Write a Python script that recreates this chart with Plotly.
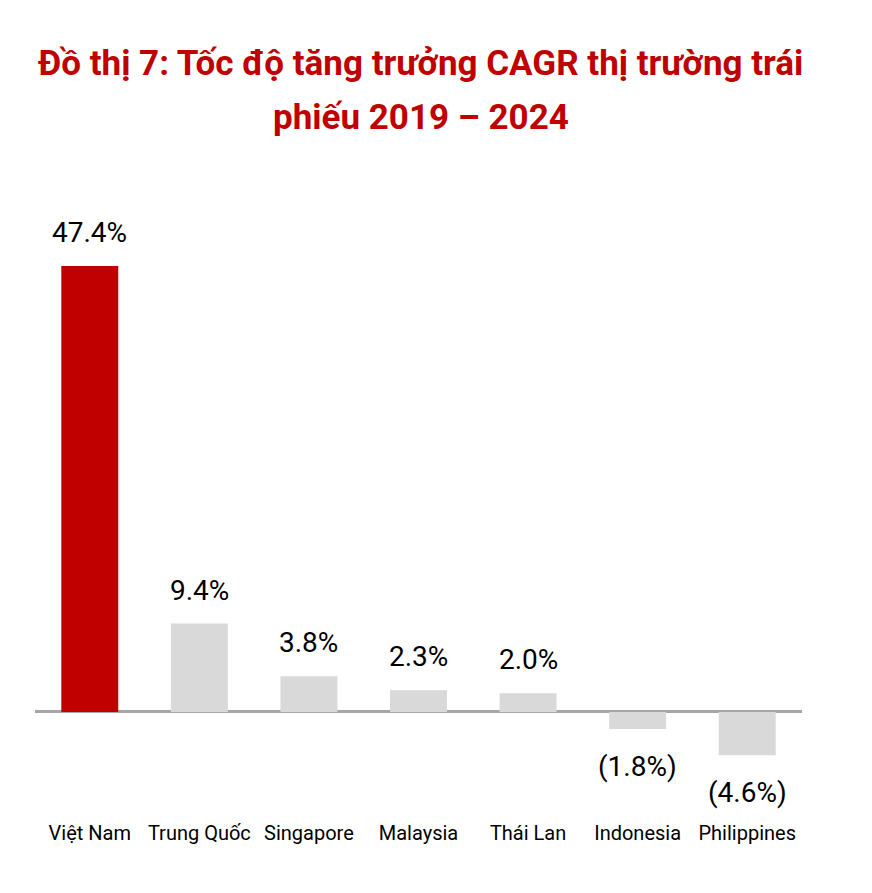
import plotly.graph_objects as go

# ---------------------------------------------------------------------------
# Data
# ---------------------------------------------------------------------------
countries = ["Việt Nam", "Trung Quốc", "Singapore", "Malaysia",
             "Thái Lan", "Indonesia", "Philippines"]
cagr = [47.4, 9.4, 3.8, 2.3, 2.0, -1.8, -4.6]

title_lines = ["Đồ thị 7: Tốc độ tăng trưởng CAGR thị trường trái",
               "phiếu 2019 – 2024"]

RED = "#C00000"
GREY = "#D9D9D9"
FONT = "Roboto, Arial, sans-serif"


def fmt(v):
    return f"{v:.1f}%" if v >= 0 else f"({abs(v):.1f}%)"


bar_colors = [RED if i == 0 else GREY for i in range(len(countries))]

fig = go.Figure()
fig.add_trace(go.Bar(
    x=countries,
    y=cagr,
    marker=dict(color=bar_colors, line=dict(width=0)),
    hoverinfo="skip",
    showlegend=False,
))

# value labels
for c, v in zip(countries, cagr):
    fig.add_annotation(
        x=c, y=v, text=fmt(v), showarrow=False,
        yanchor="bottom" if v >= 0 else "top",
        yshift=15 if v >= 0 else -19,
        font=dict(family=FONT, size=28, color="#000000"),
    )

# title, two lines placed separately
for line, shift in zip(title_lines, [117, 63]):
    fig.add_annotation(
        xref="paper", yref="paper", x=0.503, y=1,
        xanchor="center", yanchor="middle", yshift=shift,
        text=f"<b>{line}</b>", showarrow=False,
        font=dict(family=FONT, size=35, color=RED),
    )

fig.update_layout(
    width=872,
    height=893,
    paper_bgcolor="white",
    plot_bgcolor="white",
    margin=dict(l=27, r=78, t=172, b=89),
    bargap=0.48,
    xaxis=dict(
        showline=False, showgrid=False, ticks="",
        ticklabelstandoff=7,
        tickfont=dict(family=FONT, size=20, color="#000000"),
    ),
    yaxis=dict(
        range=[-10.63, 56.54],
        showgrid=False, showticklabels=False, ticks="",
        zeroline=True, zerolinecolor="#A6A6A6", zerolinewidth=2.5,
    ),
)

fig.write_html("out.html")
